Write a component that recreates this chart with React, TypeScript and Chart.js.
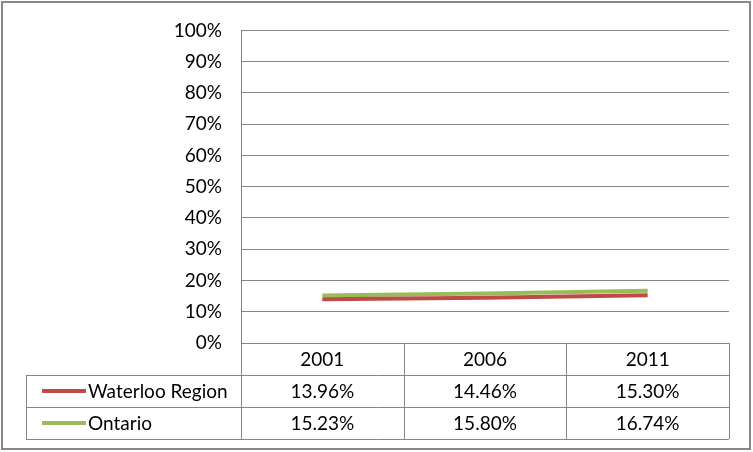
import React, { useEffect, useRef } from "react";
import { Chart, registerables } from "chart.js";

Chart.register(...registerables);

const categories = ["2001", "2006", "2011"];
const waterloo = [13.96, 14.46, 15.3];
const ontario = [15.23, 15.8, 16.74];
const seriesNames = ["Waterloo Region", "Ontario"];
const seriesColors = ["#BE4B48", "#9BBB59"];
const yTicks = [0, 10, 20, 30, 40, 50, 60, 70, 80, 90, 100];

const FONT = "Lato, 'Open Sans', sans-serif";
const FONT_SIZE = 19;
const GRID = "#868686";

const tablePlugin = {
  id: "dataTable",
  afterDraw(chart: any) {
    const ctx = chart.ctx;
    const area = chart.chartArea;
    const xs = chart.scales.x;
    const rowH = 32;
    const tableLeft = 26;
    const n = categories.length;
    const colW = (area.right - area.left) / n;
    const top = area.bottom;
    ctx.save();
    ctx.strokeStyle = GRID;
    ctx.lineWidth = 1;
    const hl = (x1: number, x2: number, y: number) => {
      ctx.beginPath();
      ctx.moveTo(x1, Math.round(y) + 0.5);
      ctx.lineTo(x2, Math.round(y) + 0.5);
      ctx.stroke();
    };
    const vl = (x: number, y1: number, y2: number) => {
      ctx.beginPath();
      ctx.moveTo(Math.round(x) + 0.5, y1);
      ctx.lineTo(Math.round(x) + 0.5, y2);
      ctx.stroke();
    };
    hl(area.left, area.right, top);
    hl(tableLeft, area.right, top + rowH);
    hl(tableLeft, area.right, top + 2 * rowH);
    hl(tableLeft, area.right, top + 3 * rowH);
    vl(tableLeft, top + rowH, top + 3 * rowH);
    for (let i = 0; i <= n; i++) {
      vl(area.left + i * colW, top, top + 3 * rowH);
    }
    ctx.fillStyle = "#000";
    ctx.font = `${FONT_SIZE}px ${FONT}`;
    ctx.textAlign = "center";
    ctx.textBaseline = "middle";
    categories.forEach((c, i) => {
      const cx = xs.getPixelForValue(i);
      ctx.fillText(c, cx, top + rowH / 2 + 1);
    });
    const allSeries = [waterloo, ontario];
    allSeries.forEach((vals, r) => {
      const cy = top + rowH * (r + 1) + rowH / 2 + 1;
      vals.forEach((v, i) => {
        const cx = xs.getPixelForValue(i);
        ctx.textAlign = "center";
        ctx.fillText(v.toFixed(2) + "%", cx, cy);
      });
      ctx.strokeStyle = seriesColors[r];
      ctx.lineWidth = 4;
      ctx.beginPath();
      ctx.moveTo(42, cy - 1);
      ctx.lineTo(86, cy - 1);
      ctx.stroke();
      ctx.textAlign = "left";
      ctx.fillText(seriesNames[r], 88, cy);
    });
    ctx.restore();
  },
};

export default function App() {
  const ref = useRef<HTMLCanvasElement>(null);
  useEffect(() => {
    if (!ref.current) return;
    const chart = new Chart(ref.current, {
      type: "line",
      data: {
        labels: categories,
        datasets: [
          {
            label: seriesNames[0],
            data: waterloo,
            borderColor: seriesColors[0],
            backgroundColor: seriesColors[0],
            borderWidth: 4,
            pointRadius: 0,
            tension: 0,
          },
          {
            label: seriesNames[1],
            data: ontario,
            borderColor: seriesColors[1],
            backgroundColor: seriesColors[1],
            borderWidth: 4,
            pointRadius: 0,
            tension: 0,
          },
        ],
      },
      options: {
        animation: false,
        responsive: false,
        layout: { padding: { left: 0, right: 24, top: 24, bottom: 109 } },
        plugins: {
          legend: { display: false },
          tooltip: { enabled: false },
        },
        scales: {
          x: {
            type: "category",
            offset: true,
            display: false,
          },
          y: {
            min: 0,
            max: 100,
            afterFit: (s: any) => {
              s.width = 241;
            },
            afterBuildTicks: (s: any) => {
              s.ticks = yTicks.map((v) => ({ value: v }));
            },
            border: { display: true, color: GRID, width: 1 },
            grid: { color: GRID, lineWidth: 1, drawTicks: false },
            ticks: {
              padding: 19,
              color: "#000",
              font: { family: FONT, size: FONT_SIZE },
              callback: (v: any) => v + "%",
            },
          },
        },
      },
      plugins: [tablePlugin],
    });
    return () => chart.destroy();
  }, []);
  return (
    <div
      style={{
        position: "fixed",
        left: 0,
        top: 0,
        width: 753,
        height: 452,
        background: "#fff",
      }}
    >
      <canvas ref={ref} width={753} height={452} style={{ display: "block" }} />
      <div
        style={{
          position: "absolute",
          left: 1,
          top: 1,
          width: 750,
          height: 449,
          border: "2px solid #888",
          boxSizing: "border-box",
          pointerEvents: "none",
        }}
      />
    </div>
  );
}
